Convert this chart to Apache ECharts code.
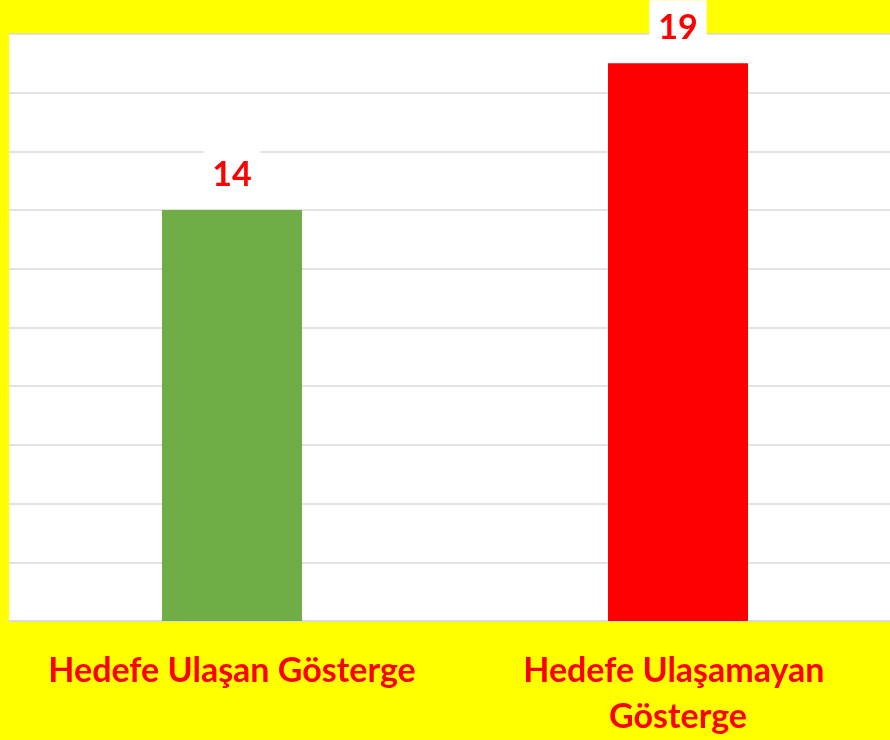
<!DOCTYPE html>
<html>
<head>
<meta charset="utf-8">
<script src="https://cdn.jsdelivr.net/npm/echarts@6/dist/echarts.min.js"></script>
<style>
  html, body { margin: 0; padding: 0; background: #ffff00; overflow: hidden; }
  /* the plot area runs past the right edge in the original, so the canvas is a bit wider */
  #chart { width: 901px; height: 740px; }
</style>
</head>
<body>
<div id="chart"></div>
<script>
const categories = ['Hedefe Ulaşan Gösterge', 'Hedefe Ulaşamayan Gösterge']
const values = [14, 19]
const barColors = ['#70ad47', '#ff0000']

const chart = echarts.init(document.getElementById('chart'))

chart.setOption({
  backgroundColor: '#ffff00',
  animation: false,
  grid: {
    left: 9,
    right: 0,
    top: 34,
    bottom: 118,
    backgroundColor: '#ffffff',
    show: true,
    borderWidth: 0,
  },
  xAxis: {
    type: 'category',
    data: categories,
    axisTick: { show: false },
    axisLine: { lineStyle: { color: '#d9d9d9', width: 1.5 } },
    axisLabel: {
      color: '#ff0000',
      fontFamily: 'Lato',
      fontWeight: 'bold',
      fontSize: 34,
      lineHeight: 46,
      margin: 27,
      width: 430,
      overflow: 'break',
      verticalAlign: 'top',
      interval: 0,
    },
  },
  yAxis: {
    type: 'value',
    min: 0,
    max: 20,
    interval: 2,
    axisLabel: { show: false },
    axisLine: { show: false },
    axisTick: { show: false },
    splitLine: { lineStyle: { color: '#d9d9d9', width: 1.5 } },
  },
  series: [{
    type: 'bar',
    barWidth: 140,
    data: values.map((v, i) => ({ value: v, itemStyle: { color: barColors[i] } })),
    label: {
      show: true,
      position: 'top',
      distance: 7,
      color: '#ff0000',
      fontFamily: 'Lato',
      fontWeight: 'bold',
      fontSize: 34,
      backgroundColor: '#ffffff',
      padding: [11, 9, 11, 9],
    },
  }],
})
</script>
</body>
</html>
